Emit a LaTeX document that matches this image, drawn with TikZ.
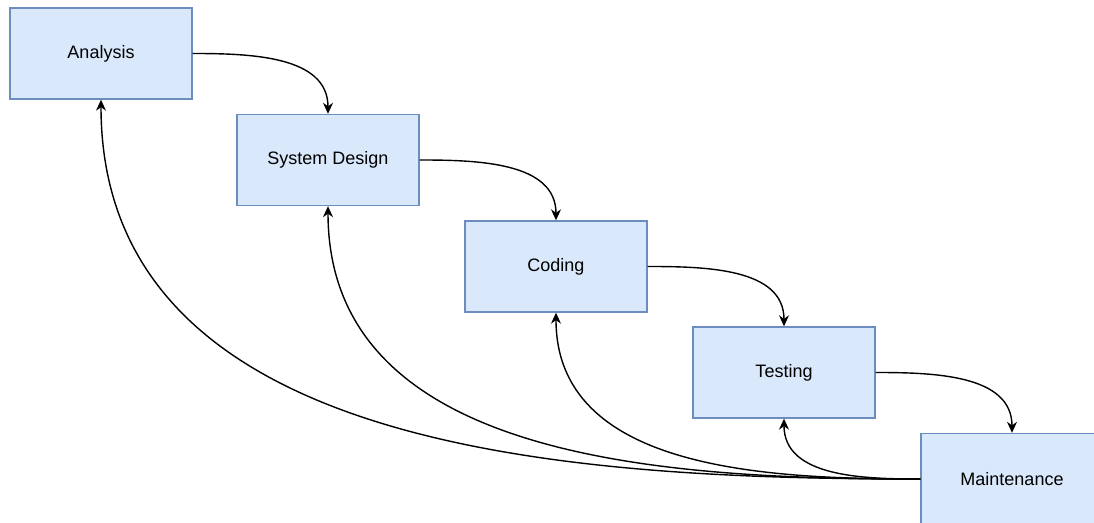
\documentclass[tikz,border=0pt]{standalone}
\usepackage{fontspec}
\setmainfont{Liberation Sans}
\usetikzlibrary{arrows.meta}

\definecolor{boxfill}{HTML}{DAE8FC}
\definecolor{boxline}{HTML}{6C8EBF}

\begin{document}
\begin{tikzpicture}[x=0.5pt, y=-0.5pt,
	phase/.style={draw=boxline, fill=boxfill, line width=0.7pt, minimum width=91pt, minimum height=45.5pt, font=\fontsize{9}{11}\selectfont},
	flow/.style={line width=0.7pt, -{Stealth[length=5.5pt, width=5pt]}}]
	\useasboundingbox (0,0) rectangle (1094,523);
	\clip (0,0) rectangle (1094,523);
	% the phases
	\node [phase] (ana) at (101,53.5) {Analysis};
	\node [phase] (sys) at (328,160) {System Design};
	\node [phase] (cod) at (556,266.5) {Coding};
	\node [phase] (tes) at (784,372.5) {Testing};
	\node [phase] (mai) at (1012,479) {Maintenance};
	% going down
	\draw [flow] (ana.east) to [out=0, in=90] (sys.north);
	\draw [flow] (sys.east) to [out=0, in=90] (cod.north);
	\draw [flow] (cod.east) to [out=0, in=90] (tes.north);
	\draw [flow] (tes.east) to [out=0, in=90] (mai.north);
	% going back from maintenance
	\draw [flow] (mai.west) to [out=180, in=-90] (tes.south);
	\draw [flow] (mai.west) to [out=180, in=-90] (cod.south);
	\draw [flow] (mai.west) to [out=180, in=-90] (sys.south);
	\draw [flow] (mai.west) to [out=180, in=-90] (ana.south);
\end{tikzpicture}
\end{document}
